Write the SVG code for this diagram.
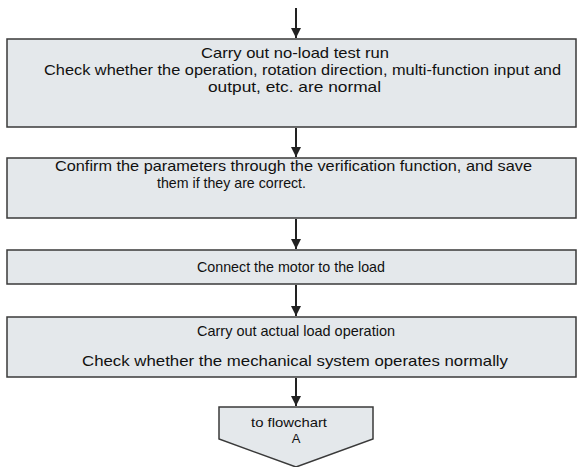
<svg xmlns="http://www.w3.org/2000/svg" width="578" height="467" viewBox="0 0 578 467">
<defs>
<style>
.box{fill:#e4e8eb;stroke:#3a3a3a;stroke-width:1.5}
.t{font-family:"Liberation Sans",Arial,sans-serif;font-size:14.5px;fill:#111}
.s{font-size:13px}
.ln{stroke:#222;stroke-width:2;fill:none}
</style>
<marker id="ah" viewBox="0 0 10 16" refX="10" refY="8" markerWidth="10" markerHeight="16" markerUnits="userSpaceOnUse" orient="auto">
<path d="M0,3 L10,8 L0,13 Z" fill="#222"/>
</marker>
</defs>
<rect width="578" height="467" fill="#fff"/>
<g id="connectors">
<line class="ln" x1="296" y1="8" x2="296" y2="38" marker-end="url(#ah)"/>
<line class="ln" x1="296" y1="128" x2="296" y2="157" marker-end="url(#ah)"/>
<line class="ln" x1="296" y1="219" x2="296" y2="249" marker-end="url(#ah)"/>
<line class="ln" x1="296" y1="285" x2="296" y2="316" marker-end="url(#ah)"/>
<line class="ln" x1="296" y1="378" x2="296" y2="406" marker-end="url(#ah)"/>
</g>
<g id="n1">
<rect class="box" x="7" y="39" width="569" height="88"/>
<text class="t" x="201" y="58" textLength="188" lengthAdjust="spacingAndGlyphs">Carry out no-load test run</text>
<text class="t" x="44" y="75" textLength="517" lengthAdjust="spacingAndGlyphs">Check whether the operation, rotation direction, multi-function  input and</text>
<text class="t" x="208" y="92" textLength="173" lengthAdjust="spacingAndGlyphs">output, etc. are normal</text>
</g>
<g id="n2">
<rect class="box" x="7" y="158" width="569" height="60"/>
<text class="t" x="55" y="171" textLength="477" lengthAdjust="spacingAndGlyphs">Confirm the parameters through the verification function,  and save</text>
<text class="t" x="157" y="188" textLength="149" lengthAdjust="spacingAndGlyphs">them if they are correct.</text>
</g>
<g id="n3">
<rect class="box" x="7" y="250" width="569" height="34"/>
<text class="t" x="197" y="272" textLength="188" lengthAdjust="spacingAndGlyphs">Connect the motor to the load</text>
</g>
<g id="n4">
<rect class="box" x="7" y="317" width="569" height="60"/>
<text class="t" x="197" y="336" textLength="198" lengthAdjust="spacingAndGlyphs">Carry out actual load operation</text>
<text class="t" x="82" y="366" textLength="426" lengthAdjust="spacingAndGlyphs">Check whether the mechanical system operates normally</text>
</g>
<g id="n5">
<path class="box" d="M219,407 L373,407 L373,439 L296,467 L219,439 Z"/>
<text class="t s" x="251" y="427" textLength="76" lengthAdjust="spacingAndGlyphs">to flowchart</text>
<text class="t s" x="296" y="443" text-anchor="middle">A</text>
</g>
</svg>
